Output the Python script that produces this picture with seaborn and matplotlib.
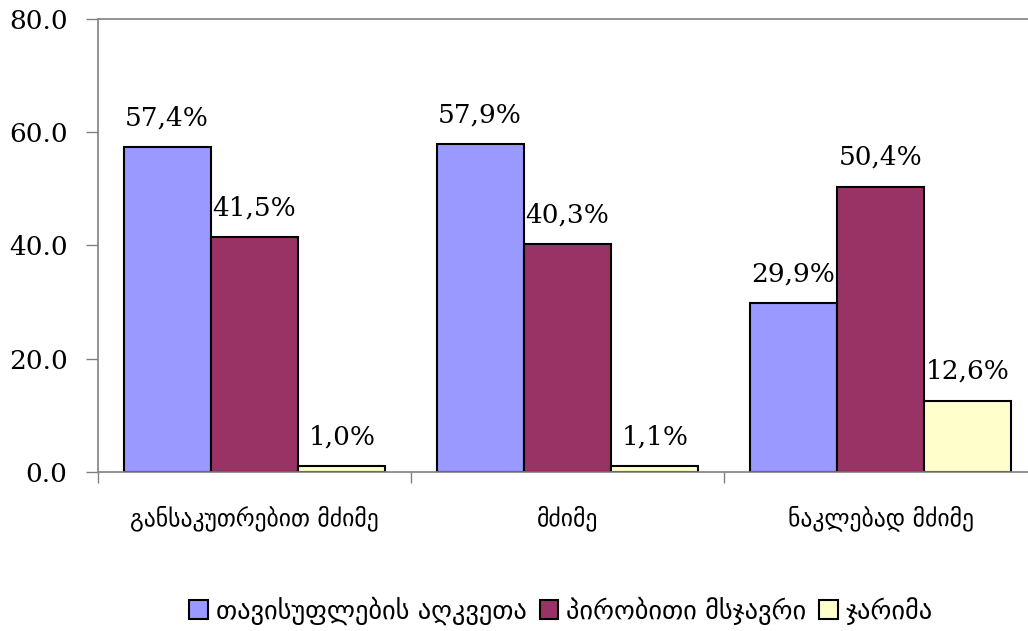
import matplotlib
matplotlib.use("Agg")
import matplotlib.pyplot as plt
import seaborn as sns
import pandas as pd
import numpy as np

# მონაცემები
categories = ["განსაკუთრებით მძიმე", "მძიმე", "ნაკლებად მძიმე"]
series = ["თავისუფლების აღკვეთა", "პირობითი მსჯავრი", "ჯარიმა"]
imprisonment = [57.4, 57.9, 29.9]
probation = [41.5, 40.3, 50.4]
fine = [1.0, 1.1, 12.6]
colors = ["#9999FF", "#993366", "#FFFFCC"]

rows = []
for name, vals in zip(series, [imprisonment, probation, fine]):
    for cat, v in zip(categories, vals):
        rows.append({"category": cat, "series": name, "value": v})
df = pd.DataFrame(rows)

sns.set_style("white")
plt.rcParams["font.family"] = ["DejaVu Serif", "DejaVu Sans"]
plt.rcParams["text.color"] = "black"
plt.rcParams["xtick.color"] = "black"
plt.rcParams["ytick.color"] = "black"

fig = plt.figure(figsize=(10.28, 6.31), dpi=100)
ax = fig.add_axes([98 / 1028, 1 - 472 / 631, (1037 - 98) / 1028, (472 - 19) / 631])

sns.barplot(data=df, x="category", y="value", hue="series", order=categories,
            hue_order=series, palette=colors, saturation=1, width=0.837, gap=0,
            edgecolor="black", linewidth=1.5, ax=ax, legend=False)

# data labels
for cont in ax.containers:
    for bar in cont:
        h = bar.get_height()
        ax.annotate(f"{h:.1f}%".replace(".", ","),
                    (bar.get_x() + bar.get_width() / 2, h),
                    xytext=(0, 12), textcoords="offset points",
                    ha="center", va="bottom", fontsize=19, color="black",
                    family=["DejaVu Serif"])

ax.set_ylim(0, 80)
ax.set_xlim(-0.5, 2.5)
ax.set_yticks([0, 20, 40, 60, 80])
ax.set_yticklabels([f"{t:.1f}" for t in [0, 20, 40, 60, 80]], fontsize=19)
ax.tick_params(axis="y", direction="out", length=9, width=1, color="#808080",
               labelcolor="black", left=True, pad=13)

ax.set_xticks([0, 1, 2])
ax.set_xticklabels(categories, fontsize=17, family=["DejaVu Sans"])
ax.tick_params(axis="x", which="major", length=0, pad=24, labelcolor="black")
ax.set_xticks([-0.5, 0.5, 1.5, 2.5], minor=True)
ax.tick_params(axis="x", which="minor", direction="out", length=8,
               width=1, color="#808080", bottom=True)
ax.set_xlabel("")
ax.set_ylabel("")

for side in ["left", "top", "bottom", "right"]:
    ax.spines[side].set_visible(True)
    ax.spines[side].set_color("#808080")
    ax.spines[side].set_linewidth(1.2)

handles = [plt.Rectangle((0, 0), 1, 1, facecolor=c, edgecolor="black", linewidth=1.5)
           for c in colors]
fig.legend(handles, series, loc="center", bbox_to_anchor=(561 / 1028, 1 - 611 / 631),
           ncol=3, frameon=False, prop={"family": ["DejaVu Sans"], "size": 19},
           handlelength=0.7, handleheight=0.7, handletextpad=0.3, columnspacing=0.5)

fig.savefig("out.png", dpi=100)
